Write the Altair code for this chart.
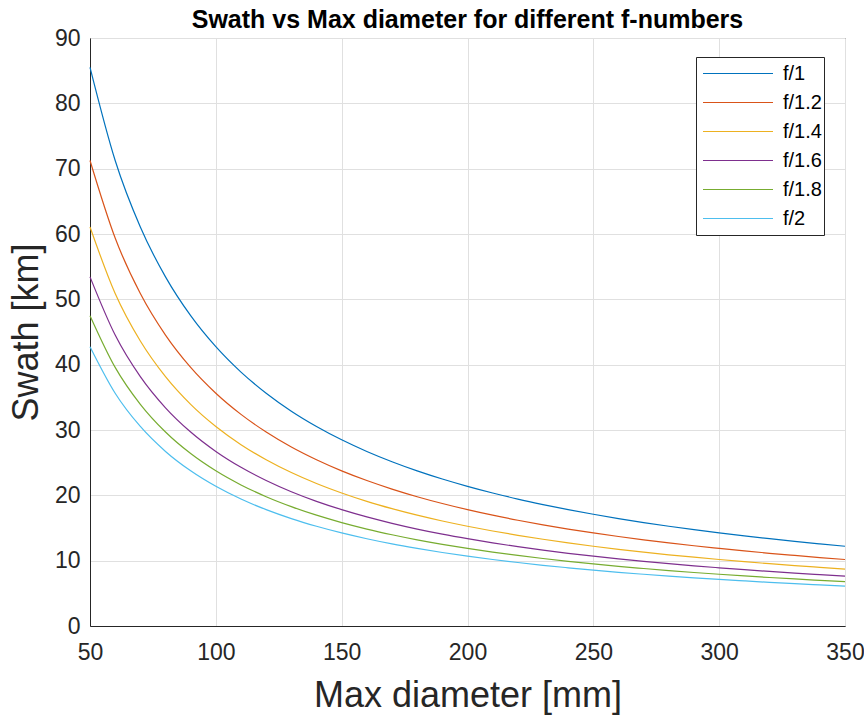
import altair as alt
import pandas as pd

diameter = [50, 60, 70, 80, 90, 100, 110, 120, 130, 140, 150, 160, 170, 180, 190, 200,
            210, 220, 230, 240, 250, 260, 270, 280, 290, 300, 310, 320, 330, 340, 350]

f1 = [85.5, 71.25, 61.07, 53.44, 47.5, 42.75, 38.86, 35.63, 32.88, 30.54, 28.5, 26.72, 25.15,
      23.75, 22.5, 21.38, 20.36, 19.43, 18.59, 17.81, 17.1, 16.44, 15.83, 15.27, 14.74, 14.25,
      13.79, 13.36, 12.95, 12.57, 12.21]
f12 = [71.25, 59.38, 50.89, 44.53, 39.58, 35.63, 32.39, 29.69, 27.40, 25.45, 23.75, 22.27, 20.96,
       19.79, 18.75, 17.81, 16.96, 16.19, 15.49, 14.84, 14.25, 13.70, 13.19, 12.72, 12.28, 11.88,
       11.49, 11.13, 10.80, 10.48, 10.18]
f14 = [61.07, 50.89, 43.62, 38.17, 33.93, 30.54, 27.76, 25.45, 23.49, 21.81, 20.36, 19.08, 17.96,
       16.96, 16.07, 15.27, 14.54, 13.88, 13.28, 12.72, 12.21, 11.74, 11.31, 10.90, 10.53, 10.18,
       9.85, 9.54, 9.25, 8.98, 8.72]
f16 = [53.44, 44.53, 38.17, 33.40, 29.69, 26.72, 24.29, 22.27, 20.55, 19.08, 17.81, 16.70, 15.72,
       14.84, 14.06, 13.36, 12.72, 12.14, 11.62, 11.13, 10.69, 10.28, 9.90, 9.54, 9.21, 8.91,
       8.62, 8.35, 8.10, 7.86, 7.63]
f18 = [47.5, 39.58, 33.93, 29.69, 26.39, 23.75, 21.59, 19.79, 18.27, 16.96, 15.83, 14.84, 13.97,
       13.19, 12.5, 11.88, 11.31, 10.80, 10.33, 9.90, 9.5, 9.13, 8.80, 8.48, 8.19, 7.92,
       7.66, 7.42, 7.20, 6.99, 6.79]
f2 = [42.75, 35.63, 30.54, 26.72, 23.75, 21.38, 19.43, 17.81, 16.44, 15.27, 14.25, 13.36, 12.57,
      11.88, 11.25, 10.69, 10.18, 9.72, 9.29, 8.91, 8.55, 8.22, 7.92, 7.63, 7.37, 7.13,
      6.90, 6.68, 6.48, 6.29, 6.11]

series_names = ["f/1", "f/1.2", "f/1.4", "f/1.6", "f/1.8", "f/2"]
series_values = [f1, f12, f14, f16, f18, f2]
colors = ["#0072BD", "#D95319", "#EDB120", "#7E2F8E", "#77AC30", "#4DBEEE"]

rows = []
for name, vals in zip(series_names, series_values):
    for d, v in zip(diameter, vals):
        rows.append({"diameter": d, "swath": v, "series": name})
df = pd.DataFrame(rows)

FONT = "Liberation Sans"

chart = alt.Chart(df).mark_line(strokeWidth=1.2, interpolate="monotone").encode(
    x=alt.X("diameter:Q",
            scale=alt.Scale(domain=[50, 350], nice=False, zero=False),
            axis=alt.Axis(values=[50, 100, 150, 200, 250, 300, 350], title="Max diameter [mm]",
                          titleY=80, titleBaseline="alphabetic", labelFlush=False,
                          labelOverlap=False, labelPadding=15)),
    y=alt.Y("swath:Q",
            scale=alt.Scale(domain=[0, 90], nice=False),
            axis=alt.Axis(values=list(range(0, 91, 10)), title="Swath [km]",
                          titleX=-53, titleBaseline="alphabetic", labelFlush=False,
                          labelOverlap=False, labelPadding=10)),
    color=alt.Color("series:N",
                    scale=alt.Scale(domain=series_names, range=colors),
                    sort=series_names,
                    legend=alt.Legend(title=None, orient="none", legendX=606, legendY=19,
                                      symbolType="stroke", symbolSize=4900, symbolStrokeWidth=1.2,
                                      clipHeight=29, rowPadding=0, symbolOffset=4,
                                      labelFontSize=20, labelFont=FONT,
                                      labelColor="#000000", labelOffset=9, padding=2,
                                      strokeColor="#262626", fillColor="#ffffff")),
).properties(
    width=755,
    height=588,
    title=alt.Title("Swath vs Max diameter for different f-numbers", fontSize=25, font=FONT,
                    fontWeight="bold", color="#000000", anchor="middle", frame="group",
                    offset=7, dy=13),
    autosize=alt.AutoSizeParams(type="none"),
    padding={"left": 90, "top": 38, "right": 19, "bottom": 91},
    background="white",
).configure_view(
    stroke="#262626", strokeWidth=1
).configure_axis(
    labelFont=FONT, titleFont=FONT, labelFontSize=23, titleFontSize=36,
    labelColor="#262626", titleColor="#262626", titleFontWeight="normal",
    gridColor="#e0e0e0", gridWidth=1, domainColor="#262626", ticks=False,
)

chart.save("out.html", embed_options={"renderer": "svg", "actions": False})
